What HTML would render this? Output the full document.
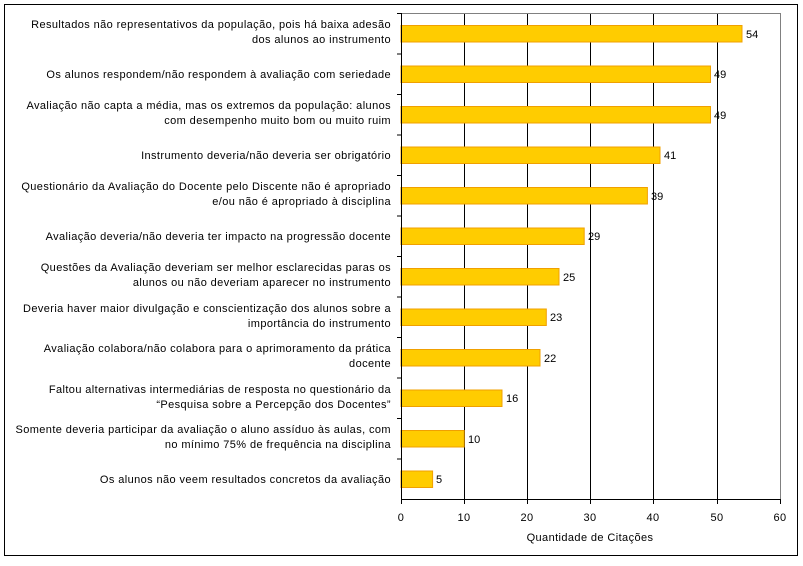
<!DOCTYPE html>
<html><head><meta charset="utf-8"><style>
body{margin:0;background:#fff;}
svg text{font-family:"Liberation Sans",sans-serif;font-size:11px;fill:#000;}
.lbl text{letter-spacing:0.4px;}
</style></head><body>
<svg width="803" height="561" xmlns="http://www.w3.org/2000/svg">
<rect x="4.5" y="4.5" width="793" height="551" fill="#fff" stroke="#000" stroke-width="1"/>
<g stroke="#000" stroke-width="1">
<line x1="464.5" y1="13" x2="464.5" y2="499"/>
<line x1="527.5" y1="13" x2="527.5" y2="499"/>
<line x1="590.5" y1="13" x2="590.5" y2="499"/>
<line x1="653.5" y1="13" x2="653.5" y2="499"/>
<line x1="717.5" y1="13" x2="717.5" y2="499"/>
</g>
<polyline points="401,13.5 780.5,13.5 780.5,499" fill="none" stroke="#808080"/>
<g fill="#ffcc00" stroke="#f0a000" stroke-width="1">
<rect x="401" y="25.5" width="341" height="16.5"/>
<rect x="401" y="66" width="309.5" height="16.5"/>
<rect x="401" y="106.5" width="309.5" height="16.5"/>
<rect x="401" y="147" width="259" height="16.5"/>
<rect x="401" y="187.5" width="246.4" height="16.5"/>
<rect x="401" y="228" width="183.2" height="16.5"/>
<rect x="401" y="268.5" width="158" height="16.5"/>
<rect x="401" y="309" width="145.3" height="16.5"/>
<rect x="401" y="349.5" width="139" height="16.5"/>
<rect x="401" y="390" width="101" height="16.5"/>
<rect x="401" y="430.5" width="63.2" height="16.5"/>
<rect x="401" y="471" width="31.6" height="16.5"/>
</g>
<g stroke="#000">
<line x1="401.5" y1="13" x2="401.5" y2="499.5"/>
<line x1="401" y1="499.5" x2="781" y2="499.5"/>
<line x1="397" y1="13.5" x2="401" y2="13.5"/><line x1="397" y1="54" x2="401" y2="54"/><line x1="397" y1="94.5" x2="401" y2="94.5"/><line x1="397" y1="135" x2="401" y2="135"/><line x1="397" y1="175.5" x2="401" y2="175.5"/><line x1="397" y1="216" x2="401" y2="216"/><line x1="397" y1="256.5" x2="401" y2="256.5"/><line x1="397" y1="297" x2="401" y2="297"/><line x1="397" y1="337.5" x2="401" y2="337.5"/><line x1="397" y1="378" x2="401" y2="378"/><line x1="397" y1="418.5" x2="401" y2="418.5"/><line x1="397" y1="459" x2="401" y2="459"/>
<line x1="401.5" y1="499" x2="401.5" y2="504"/><line x1="464.5" y1="499" x2="464.5" y2="504"/><line x1="527.5" y1="499" x2="527.5" y2="504"/><line x1="590.5" y1="499" x2="590.5" y2="504"/><line x1="653.5" y1="499" x2="653.5" y2="504"/><line x1="717.5" y1="499" x2="717.5" y2="504"/><line x1="780.5" y1="499" x2="780.5" y2="504"/>
</g>
<g>
<text x="746" y="38">54</text><text x="714" y="78">49</text><text x="714" y="119">49</text><text x="664" y="159">41</text><text x="651" y="200">39</text><text x="588" y="240">29</text><text x="563" y="281">25</text><text x="550" y="321">23</text><text x="544" y="362">22</text><text x="506" y="402">16</text><text x="468" y="443">10</text><text x="436" y="483">5</text>
</g>
<g text-anchor="middle" class="lbl">
<text x="401" y="521">0</text><text x="464" y="521">10</text><text x="527" y="521">20</text><text x="590" y="521">30</text><text x="653" y="521">40</text><text x="717" y="521">50</text><text x="780" y="521">60</text>
<text x="590" y="541">Quantidade de Citações</text>
</g>
<g text-anchor="end" class="lbl">
<text x="391" y="28">Resultados não representativos da população, pois há baixa adesão</text>
<text x="391" y="43">dos alunos ao instrumento</text>
<text x="391" y="78">Os alunos respondem/não respondem à avaliação com seriedade</text>
<text x="391" y="109">Avaliação não capta a média, mas os extremos da população: alunos</text>
<text x="391" y="124">com desempenho muito bom ou muito ruim</text>
<text x="391" y="159">Instrumento deveria/não deveria ser obrigatório</text>
<text x="391" y="190">Questionário da Avaliação do Docente pelo Discente não é apropriado</text>
<text x="391" y="205">e/ou não é apropriado à disciplina</text>
<text x="391" y="240">Avaliação deveria/não deveria ter impacto na progressão docente</text>
<text x="391" y="271">Questões da Avaliação deveriam ser melhor esclarecidas paras os</text>
<text x="391" y="286">alunos ou não deveriam aparecer no instrumento</text>
<text x="391" y="312">Deveria haver maior divulgação e conscientização dos alunos sobre a</text>
<text x="391" y="327">importância do instrumento</text>
<text x="391" y="352">Avaliação colabora/não colabora para o aprimoramento da prática</text>
<text x="391" y="367">docente</text>
<text x="391" y="393">Faltou alternativas intermediárias de resposta no questionário da</text>
<text x="391" y="408">“Pesquisa sobre a Percepção dos Docentes”</text>
<text x="391" y="433">Somente deveria participar da avaliação o aluno assíduo às aulas, com</text>
<text x="391" y="448">no mínimo 75% de frequência na disciplina</text>
<text x="391" y="483">Os alunos não veem resultados concretos da avaliação</text>
</g>
</svg>
</body></html>
